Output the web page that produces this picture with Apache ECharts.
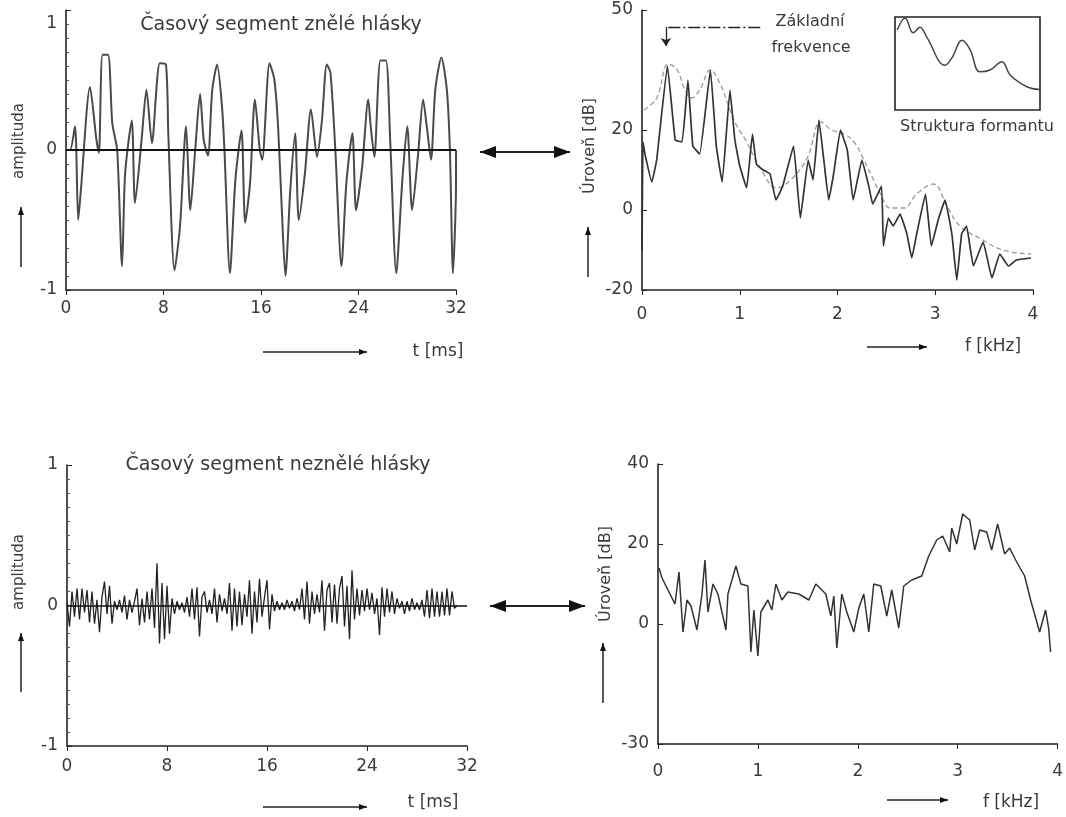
<!DOCTYPE html>
<html><head><meta charset="utf-8">
<script src="https://cdn.jsdelivr.net/npm/echarts@6/dist/echarts.min.js"></script>
<style>html,body{margin:0;padding:0;background:#fff}#c{width:1066px;height:817px}</style>
</head><body><div id="c"></div>
<script>
// ---- Voiced time segment (t in ms, amplitude) ----
var voicedT = [0,0.33,0.74,1.0,1.2,1.97,2.5,2.7,3.0,3.45,3.8,4.2,4.6,4.85,5.4,5.66,6.2,6.6,7.05,7.7,8.2,8.4,8.9,9.35,9.85,10.2,10.6,11.0,11.3,11.65,12.0,12.4,12.8,13.0,13.45,13.9,14.4,14.7,15.1,15.5,15.9,16.1,16.7,17.1,17.4,17.7,18.0,18.4,18.8,19.1,19.6,20.1,20.6,21.0,21.4,21.7,22.1,22.6,23.0,23.5,23.8,24.3,24.8,25.0,25.3,25.8,26.25,26.6,27.1,27.6,28.0,28.4,28.9,29.3,29.6,29.95,30.3,30.8,31.25,31.5,31.75,32.0,32.0];
var voicedA = [0,0,0.17,-0.5,-0.31,0.45,0.07,-0.02,0.68,0.68,0.19,0,-0.83,-0.17,0.21,-0.38,0.07,0.43,0.05,0.62,0.61,0.1,-0.86,-0.55,0.17,-0.43,0,0.4,0.07,-0.04,0.43,0.61,0.31,0,-0.88,-0.21,0.14,-0.52,-0.24,0.36,0,-0.07,0.62,0.5,0.17,-0.41,-0.9,-0.29,0.12,-0.5,-0.17,0.29,-0.05,0.21,0.61,0.55,0,-0.83,-0.24,0.12,-0.43,-0.12,0.36,0.17,-0.05,0.64,0.64,0.07,-0.88,-0.21,0.17,-0.43,-0.02,0.36,0.17,-0.07,0.43,0.66,0.43,0,-0.88,-0.24,0];

// ---- Voiced spectrum (f in kHz, level in dB) ----
var specF = [0,0.01,0.03,0.1,0.15,0.26,0.34,0.41,0.47,0.52,0.59,0.7,0.76,0.82,0.9,0.95,1.0,1.07,1.13,1.17,1.24,1.31,1.37,1.44,1.55,1.62,1.7,1.75,1.81,1.86,1.91,1.96,2.03,2.1,2.16,2.25,2.32,2.36,2.45,2.47,2.52,2.57,2.64,2.71,2.76,2.81,2.9,2.96,3.03,3.1,3.17,3.22,3.27,3.32,3.39,3.49,3.58,3.66,3.75,3.83,3.98];
var specDb = [-10,17,14,7,12.5,36,17.5,17,32.5,16,14,35,16,7,30,17.5,11,5.5,19,11.5,10,9,2.5,6,16,-2,12.5,7.5,22.5,12.5,2.5,9,20,15,2.5,12.5,6,1.5,6,-9,-2,-4,-1,-6,-12,-6,4,-9,-2.5,2.5,-6,-17.5,-6,-4,-14,-8,-17,-11,-14,-12.5,-12];

// ---- Formant envelope (dashed) ----
var envF = [0.02,0.15,0.27,0.36,0.44,0.51,0.59,0.7,0.8,0.9,0.97,1.06,1.2,1.38,1.52,1.69,1.83,1.94,2.07,2.17,2.26,2.34,2.44,2.54,2.68,2.81,2.98,3.12,3.25,3.45,3.69,3.98];
var envDb = [25,28,36.5,35,30,28,30,35,31.5,25,21,17.5,11,5.5,7.5,13,22,20,19,17,13,9,4,0.5,0.5,4,6.5,1,-4,-7,-10,-11];

// ---- Inset: formant structure ----
var insetX = [0.06,0.28,0.5,0.69,0.88,1.38,1.57,1.85,2.07,2.34,2.62,2.95,3.17,3.64,4.0];
var insetY = [86,99,83,89,78,48,56,75,65,41,43,52,38,25,22];

// ---- Unvoiced time segment: samples every 0.2 ms ----
var noiseStep = 0.2;
var noiseA = [
 0.02,-0.15,0.1,-0.08,0.12,  -0.1,0.12,-0.05,0.11,-0.12,  0.1,-0.13,0.04,-0.19,0.06,  0.17,-0.06,0.14,-0.13,0.03,
 -0.03,0.04,-0.05,0.07,-0.1,  0.04,-0.05,0.03,0.12,-0.14,  0.05,-0.12,0.1,-0.1,0.12,  -0.16,0.3,-0.27,0.16,-0.24,
 0.14,-0.2,0.05,-0.06,0.03,  -0.03,0.02,-0.05,0.06,-0.08,  0.12,-0.1,0.13,-0.22,0.06,  0.1,-0.05,0.04,-0.06,0.12,
 -0.12,0.08,-0.04,0.05,-0.06,  0.16,-0.18,0.12,-0.15,0.1,  -0.14,0.08,-0.08,0.18,-0.2,  0.1,-0.12,0.19,-0.08,0.06,
 0.18,-0.17,0.08,-0.04,0.03,  -0.03,0.02,-0.03,0.04,-0.02,  0.03,-0.04,0.05,-0.03,0.12,  -0.1,0.17,-0.13,0.1,-0.06,
 0.08,-0.05,0.18,-0.18,0.11,  0.16,-0.12,0.15,-0.13,0.12,  0.21,-0.15,0.14,-0.24,0.25,  -0.1,0.12,-0.07,0.11,-0.04,
 0.12,-0.03,0.09,-0.06,0.05,  -0.21,0.13,-0.08,0.12,-0.05,  0.1,-0.06,0.05,-0.02,0.03,  -0.06,0.03,-0.04,0.05,-0.03,
 0.02,-0.03,0.04,-0.08,0.11,  -0.09,0.12,-0.08,0.1,-0.08,  0.1,-0.07,0.12,-0.07,0.1,  -0.02,0
];

// ---- Unvoiced spectrum ----
var uvF = [0.01,0.04,0.1,0.17,0.21,0.25,0.29,0.33,0.39,0.44,0.47,0.5,0.55,0.6,0.68,0.7,0.78,0.83,0.9,0.93,0.96,1.0,1.03,1.1,1.14,1.18,1.24,1.3,1.41,1.51,1.58,1.68,1.73,1.76,1.79,1.84,1.89,1.96,2.01,2.06,2.11,2.16,2.23,2.29,2.34,2.41,2.46,2.54,2.64,2.71,2.79,2.85,2.92,2.94,2.99,3.05,3.12,3.17,3.22,3.29,3.34,3.4,3.47,3.52,3.58,3.67,3.73,3.82,3.88,3.91,3.93];
var uvDb = [14,11.5,8.5,5,13,-2,6,4.5,-1.5,7.5,16,3,10,7.5,-1.5,7.5,14.5,10,9.5,-7,3.5,-8,3,6,3.5,10,6,8,7.5,6,10,7.5,2,7,-6,7.5,3,-2,4,7.5,-2,10,9.5,2,8.5,-1,9.5,11,12,17,21,22,18,24,20,27.5,26,18.5,23.5,23,18.5,25,17.5,19,16,12,6,-2,3.5,-1,-7];

// tick label lists
var trYTicks = [-20, 0, 20, 50];
var brYTicks = [-30, 0, 20, 40];

function pairs(xs, ys){ return xs.map(function(x,i){ return [x, ys[i]]; }); }
var noiseData = noiseA.map(function(a,i){ return [+(i*noiseStep).toFixed(2), a]; });

var FONT = 'DejaVu Sans';
var TXT = '#3a3a3a';
var AX = '#222';

function xAx(grid, min, max, interval, margin){
  return {gridIndex:grid, type:'value', min:min, max:max, interval:interval,
    axisLine:{show:true, onZero:false, lineStyle:{color:AX, width:1.6}},
    axisTick:{show:true, length:5, lineStyle:{color:AX}},
    axisLabel:{fontFamily:FONT, fontSize:17, color:TXT, margin:margin},
    splitLine:{show:false}};
}
function yAx(grid, min, max, interval, ticks, minor, shiftTop){
  var o = {gridIndex:grid, type:'value', min:min, max:max, interval:interval,
    axisLine:{show:true, onZero:false, lineStyle:{color:AX, width:1.6}},
    axisTick:{show:true, inside:true, length:5, lineStyle:{color:AX}},
    axisLabel:{fontFamily:FONT, fontSize:17, color:TXT, margin:9},
    splitLine:{show:false}};
  if (ticks) { o.axisTick.customValues = ticks; o.axisLabel.customValues = ticks; }
  if (minor) o.minorTick = {show:true, splitNumber:10, length:3, lineStyle:{color:'#555'}};
  if (shiftTop) {
    o.axisLabel.formatter = function(v){ return v === max ? '{d|' + v + '}' : String(v); };
    o.axisLabel.rich = {d:{fontFamily:FONT, fontSize:17, color:TXT, padding:[28,0,0,0]}};
  }
  return o;
}

function arrow(x1,y1,x2,y2,hl,hw,both,lw){
  var els = [];
  var dx = x2-x1, dy = y2-y1, L = Math.sqrt(dx*dx+dy*dy);
  var ux = dx/L, uy = dy/L, nx = -uy, ny = ux;
  els.push({type:'line', shape:{x1:x1,y1:y1,x2:x2,y2:y2}, style:{stroke:'#222', lineWidth:lw||1.5}});
  function head(tx,ty,sx,sy){
    var bx = tx - sx*hl, by = ty - sy*hl;
    els.push({type:'polygon', shape:{points:[[tx,ty],[bx+nx*hw/2,by+ny*hw/2],[bx-nx*hw/2,by-ny*hw/2]]}, style:{fill:'#111'}});
  }
  head(x2,y2,ux,uy);
  if (both) head(x1,y1,-ux,-uy);
  return els;
}
function txt(x,y,s,size,rot){
  return {type:'text', x:x, y:y, rotation:rot||0,
    style:{text:s, fontFamily:FONT, fontSize:size, fill:TXT, align:'center', verticalAlign:'middle'}};
}

var graphics = [].concat(
  [txt(281,25,'Časový segment znělé hlásky',19),
   txt(278,465,'Časový segment neznělé hlásky',19),
   txt(19,141,'amplituda',15,Math.PI/2),
   txt(19,572,'amplituda',15,Math.PI/2),
   txt(438,352,'t [ms]',17),
   txt(433,803,'t [ms]',17),
   txt(590,146,'Úroveň [dB]',16,Math.PI/2),
   txt(606,574,'Úroveň [dB]',16,Math.PI/2),
   txt(993,347,'f [kHz]',17),
   txt(1011,803,'f [kHz]',17),
   txt(810,22,'Základní',16),
   txt(811,48,'frekvence',16),
   txt(977,127,'Struktura formantu',16)],
  arrow(21,267,21,207,8,6,false),
  arrow(21,692,21,633,8,6,false),
  arrow(588,277,588,227,8,6,false),
  arrow(603,703,603,643,8,6,false),
  arrow(263,352,367,352,8,6,false),
  arrow(263,807,367,807,8,6,false),
  arrow(867,347,927,347,8,6,false),
  arrow(887,800,948,800,8,6,false),
  arrow(480,152,570,152,16,12,true,2),
  arrow(490,606,585,606,16,12,true,2)
);

var option = {
  animation:false,
  backgroundColor:'#fff',
  grid:[
    {left:66, top:10, width:390, height:280},
    {left:642, top:10, width:391, height:280},
    {left:67, top:465, width:400, height:281},
    {left:658, top:464, width:402, height:280},
    {left:895, top:17, width:145, height:93, show:true, borderColor:'#222', borderWidth:1.6, backgroundColor:'transparent'}
  ],
  xAxis:[
    xAx(0,0,32,8,10),
    xAx(1,0,4,1,16),
    xAx(2,0,32,8,12),
    xAx(3,0,4,1,19),
    {gridIndex:4, type:'value', min:0, max:4, show:false}
  ],
  yAxis:[
    yAx(0,-1,1,1,null,true,true),
    yAx(1,-20,50,10,trYTicks,false),
    yAx(2,-1,1,1,null,true),
    yAx(3,-30,40,10,brYTicks,false),
    {gridIndex:4, type:'value', min:0, max:100, show:false}
  ],
  series:[
    {type:'line', xAxisIndex:0, yAxisIndex:0, data:pairs(voicedT, voicedA), showSymbol:false, smooth:0.25,
     lineStyle:{color:'#4a4a4a', width:2},
     markLine:{silent:true, symbol:['none','none'], label:{show:false}, lineStyle:{color:'#111', width:2, type:'solid'}, data:[{yAxis:0}]}},
    {type:'line', xAxisIndex:1, yAxisIndex:1, data:pairs(envF, envDb), showSymbol:false, smooth:0.4,
     lineStyle:{color:'#999', width:1.3, type:[5,3]}},
    {type:'line', xAxisIndex:1, yAxisIndex:1, data:pairs(specF, specDb), showSymbol:false, smooth:0.1,
     lineStyle:{color:'#333', width:1.7},
     markLine:{silent:true, label:{show:false}, lineStyle:{color:'#222', width:1.3}, symbolSize:8,
       data:[
         [{coord:[1.21,45.75], symbol:'none', lineStyle:{type:[12,3,2,3]}}, {coord:[0.245,45.75], symbol:'none'}],
         [{coord:[0.245,45.75], symbol:'none', lineStyle:{type:'solid'}}, {coord:[0.245,41], symbol:'arrow'}]
       ]}},
    {type:'line', xAxisIndex:2, yAxisIndex:2, data:noiseData, showSymbol:false,
     lineStyle:{color:'#222', width:1.3},
     markLine:{silent:true, symbol:['none','none'], label:{show:false}, lineStyle:{color:'#111', width:1.6, type:'solid'}, data:[{yAxis:0}]}},
    {type:'line', xAxisIndex:3, yAxisIndex:3, data:pairs(uvF, uvDb), showSymbol:false,
     lineStyle:{color:'#333', width:1.5}},
    {type:'line', xAxisIndex:4, yAxisIndex:4, data:pairs(insetX, insetY), showSymbol:false, smooth:0.4,
     lineStyle:{color:'#444', width:1.5}}
  ],
  graphic:graphics
};
var chart = echarts.init(document.getElementById('c'), null, {renderer:'canvas'});
chart.setOption(option);
</script></body></html>
